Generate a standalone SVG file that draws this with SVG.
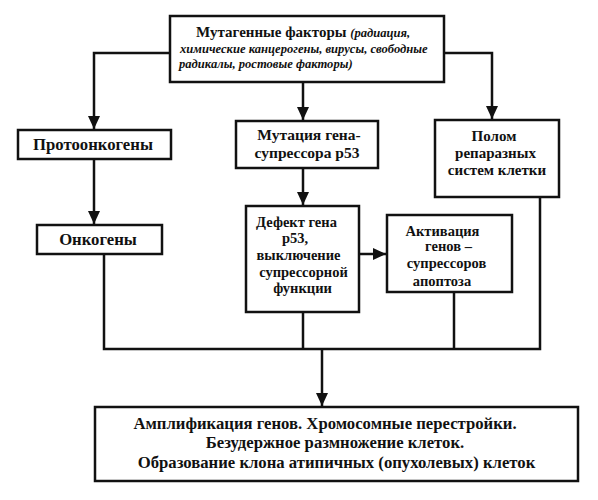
<svg xmlns="http://www.w3.org/2000/svg" width="598" height="500" viewBox="0 0 598 500">
<defs>
<marker id="arr" markerUnits="userSpaceOnUse" markerWidth="14" markerHeight="14" viewBox="0 0 14 14" refX="13" refY="7" orient="auto">
<path d="M0,1 L13,7 L0,13 Z" fill="#111"/>
</marker>
</defs>
<style>
.box{fill:#fff;stroke:#111;stroke-width:2.5}
.ln{fill:none;stroke:#111;stroke-width:2.5}
.t{font-family:"Liberation Serif","Times New Roman","DejaVu Serif",serif;font-weight:bold;font-size:16.7px;fill:#111}
.m{text-anchor:middle}
.i{font-style:italic;font-size:12.6px}
.s{font-size:14.5px}
</style>
<rect width="598" height="500" fill="#fff"/>
<g id="connectors">
<polyline class="ln" points="170,53 94,53 94,129" marker-end="url(#arr)"/>
<polyline class="ln" points="444,53 492,53 492,119" marker-end="url(#arr)"/>
<line class="ln" x1="303" y1="82" x2="303" y2="120" marker-end="url(#arr)"/>
<line class="ln" x1="94" y1="159" x2="94" y2="224" marker-end="url(#arr)"/>
<line class="ln" x1="303" y1="168" x2="303" y2="205" marker-end="url(#arr)"/>
<line class="ln" x1="359" y1="254" x2="386" y2="254" marker-end="url(#arr)"/>
<polyline class="ln" points="104,254 104,349 540,349 540,197"/>
<line class="ln" x1="303" y1="312" x2="303" y2="349"/>
<line class="ln" x1="454" y1="292" x2="454" y2="349"/>
<line class="ln" x1="322" y1="349" x2="322" y2="406" marker-end="url(#arr)"/>
</g>
<g id="mutagens">
<rect class="box" x="170" y="16" width="274" height="66"/>
<text class="t" x="196" y="37" style="font-size:15px">Мутагенные факторы <tspan class="i">(радиация,</tspan></text>
<text class="t i" x="180" y="53">химические канцерогены, вирусы, свободные</text>
<text class="t i" x="179" y="68">радикалы, ростовые факторы)</text>
</g>
<g id="protooncogenes">
<rect class="box" x="18" y="130" width="153" height="29"/>
<text class="t m" x="93" y="150">Протоонкогены</text>
</g>
<g id="oncogenes">
<rect class="box" x="37" y="225" width="125" height="29"/>
<text class="t m" x="98" y="245">Онкогены</text>
</g>
<g id="p53-mutation">
<rect class="box" x="236" y="121" width="142" height="47"/>
<text class="t m" x="309" y="140" style="font-size:15.5px">Мутация гена-</text>
<text class="t m" x="307" y="158" style="font-size:15.5px">супрессора р53</text>
</g>
<g id="repair">
<rect class="box" x="435" y="120" width="124" height="77"/>
<text class="t m" x="494" y="141" style="font-size:15px">Полом</text>
<text class="t m" x="495.5" y="158" style="font-size:15px">репаразных</text>
<text class="t m" x="497" y="175" style="font-size:15px">систем клетки</text>
</g>
<g id="p53-defect">
<rect class="box" x="246" y="206" width="113" height="106"/>
<text class="t s m" x="296.5" y="227">Дефект гена</text>
<text class="t s m" x="295" y="243">р53,</text>
<text class="t s m" x="298.5" y="260">выключение</text>
<text class="t s m" x="303.5" y="277">супрессорной</text>
<text class="t s m" x="302.5" y="293">функции</text>
</g>
<g id="apoptosis">
<rect class="box" x="387" y="215" width="125" height="77"/>
<text class="t s m" x="442.5" y="236">Активация</text>
<text class="t s m" x="448.5" y="251">генов –</text>
<text class="t s m" x="446.5" y="268">супрессоров</text>
<text class="t s m" x="442" y="286">апоптоза</text>
</g>
<g id="result">
<rect class="box" x="95" y="407" width="483" height="74"/>
<text class="t m" x="325" y="429">Амплификация генов. Хромосомные перестройки.</text>
<text class="t m" x="335" y="448">Безудержное размножение клеток.</text>
<text class="t m" x="336.5" y="468">Образование клона атипичных (опухолевых) клеток</text>
</g>
</svg>
